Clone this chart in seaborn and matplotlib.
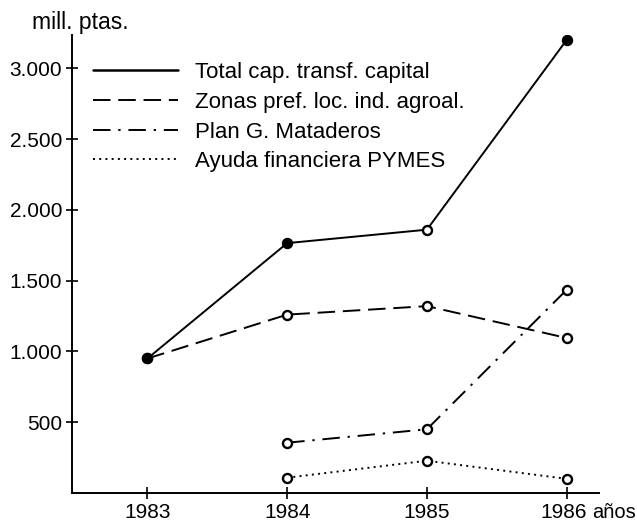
import numpy as np
import pandas as pd
import matplotlib
matplotlib.use("Agg")
import matplotlib.pyplot as plt
import matplotlib.transforms as mtransforms
from matplotlib.lines import Line2D
import seaborn as sns

# Data (mill. ptas.)
years = [1983, 1984, 1985, 1986]
total = [950, 1765, 1860, 3200]
zonas = [950, 1260, 1320, 1095]
plan = [np.nan, 355, 450, 1435]
ayuda = [np.nan, 108, 228, 100]

labels = ["Total cap. transf. capital", "Zonas pref. loc. ind. agroal.",
          "Plan G. Mataderos", "Ayuda financiera PYMES"]
ytick_vals = [500, 1000, 1500, 2000, 2500, 3000]
ytick_labels = ["500", "1.000", "1.500", "2.000", "2.500", "3.000"]
xtick_labels = ["1983", "1984", "1985", "1986"]

sns.set_theme(style="white")
plt.rcParams['font.family'] = ['Liberation Sans', 'DejaVu Sans']
plt.rcParams['text.color'] = 'black'

series = [total, zonas, plan, ayuda]
styles = ["-", (0, (9, 4)), (0, (9, 4, 1.2, 4)), (0, (1, 2.2))]
# which markers are drawn filled
filled = [[True, True, False, True], [True, False, False, False],
          [False, False, False, False], [False, False, False, False]]

fig = plt.figure(figsize=(6.37, 5.22), dpi=100)
ax = fig.add_axes([0.113, 0.0556, 0.827, 0.877])

for vals, ls, fl in zip(series, styles, filled):
    df = pd.DataFrame({"year": years, "value": vals}).dropna()
    sns.lineplot(data=df, x="year", y="value", ax=ax, color="black",
                 linewidth=1.4, linestyle=ls, legend=False)
    for x, y, f in zip(years, vals, fl):
        if np.isnan(y):
            continue
        ax.plot(x, y, marker="o", markersize=6.5, markeredgewidth=1.7,
                markeredgecolor="black", markerfacecolor="black" if f else "white",
                zorder=5)

ax.set_xlim(1982.46, 1986.23)
ax.set_ylim(0, 3234)
ax.set_xticks(years)
ax.set_xticklabels(xtick_labels, fontsize=15)
ax.set_yticks(ytick_vals)
ax.set_yticklabels(ytick_labels, fontsize=15)
ax.set_xlabel("")
ax.set_ylabel("")
ax.tick_params(bottom=True, left=True, direction="inout", length=8, width=1.2,
               colors="black", pad=3)
for s in ["top", "right"]:
    ax.spines[s].set_visible(False)
for s in ["left", "bottom"]:
    ax.spines[s].set_color("black")
    ax.spines[s].set_linewidth(1.4)

# nudge "1986" left a little so "años" fits after it
last = ax.get_xticklabels()[-1]
last.set_transform(last.get_transform() +
                   mtransforms.ScaledTranslation(-3 / 100, 0, fig.dpi_scale_trans))

ax.annotate("años", xy=(1986, 0), xycoords="data", xytext=(18, -7),
            textcoords="offset points", fontsize=14.5, ha="left", va="top",
            annotation_clip=False)
fig.text(0.05, 0.957, "mill. ptas.", fontsize=16.5, ha="left", va="center")

handles = [Line2D([0], [0], color="black", linewidth=1.8 if i == 0 else 1.4,
                  linestyle=styles[i]) for i in range(4)]
ax.legend(handles, labels, loc="upper left", bbox_to_anchor=(0.015, 0.97),
          frameon=False, fontsize=16, handlelength=3.8, handletextpad=0.77,
          labelspacing=0.39, borderaxespad=0.2)

fig.savefig("out.png", dpi=100)
